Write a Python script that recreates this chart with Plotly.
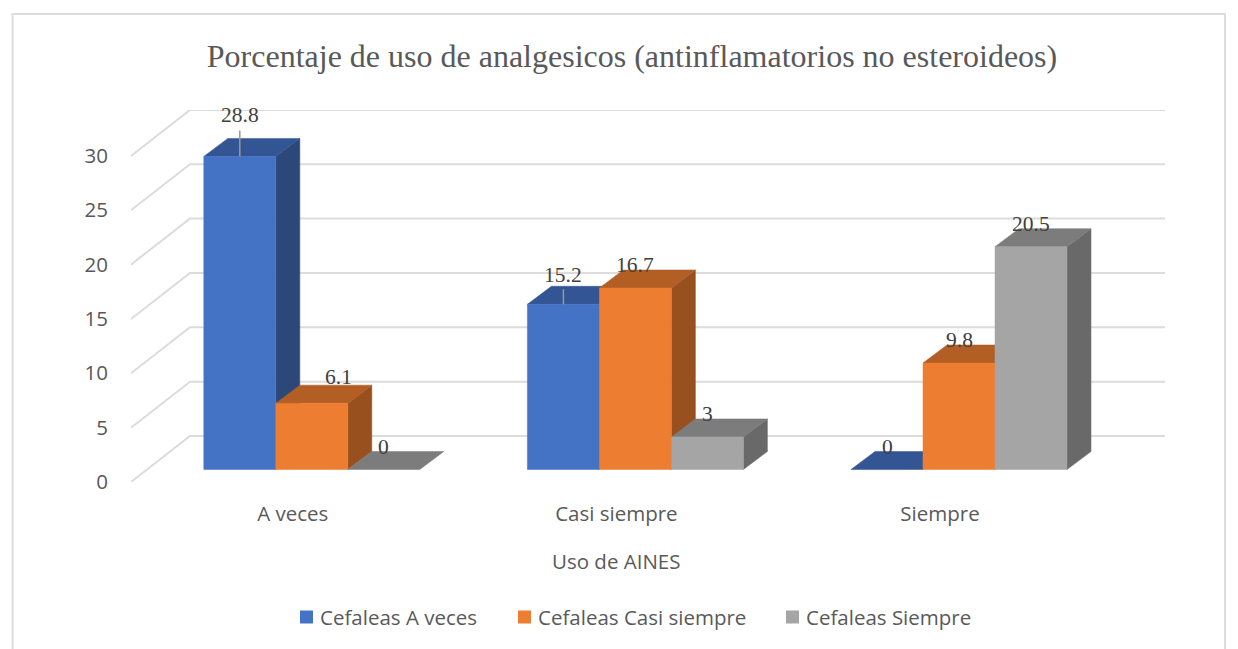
import plotly.graph_objects as go

title = "Porcentaje de uso de analgesicos (antinflamatorios no esteroideos)"
x_title = "Uso de AINES"
categories = ["A veces", "Casi siempre", "Siempre"]
series_names = ["Cefaleas A veces", "Cefaleas Casi siempre", "Cefaleas Siempre"]
a_veces = [28.8, 15.2, 0]
casi_siempre = [6.1, 16.7, 9.8]
siempre = [0, 3, 20.5]
y_ticks = [0, 5, 10, 15, 20, 25, 30]

series_values = [a_veces, casi_siempre, siempre]
front_colors = ["#4472C4", "#ED7D31", "#A5A5A5"]
side_colors = ["#2B4878", "#98501F", "#696969"]
top_colors = ["#335593", "#B25E24", "#7C7C7C"]
TEXT = "#595959"
GRID = "#DCDCDC"

# geometry of the pseudo-3D projection
L, R, T, B = 131, 1165, 110, 482
PX_X, PX_Y = 323.6, 10.87
x_max = (R - L) / PX_X
y_max = (B - T) / PX_Y
wall_dx, wall_dy = 59 / PX_X, 46 / PX_Y
base_dx, base_dy = 19 / PX_X, 12.5 / PX_Y
depth_dx, depth_dy = 24 / PX_X, 18 / PX_Y
bar_w = 72 / PX_X
gap = (1 - 3 * bar_w) / 2


def paper_x(px):
    return (px - L) / (R - L)


def paper_y(px):
    return (B - px) / (B - T)


fig = go.Figure()

# wall gridlines
for t in y_ticks:
    fig.add_trace(go.Scatter(
        x=[0, wall_dx, x_max], y=[t, t + wall_dy, t + wall_dy], mode="lines",
        line=dict(color=GRID, width=2), showlegend=False, hoverinfo="skip"))


def poly(xs, ys, color):
    fig.add_trace(go.Scatter(
        x=xs + xs[:1], y=ys + ys[:1], mode="lines", fill="toself", fillcolor=color,
        line=dict(color=color, width=0.5), showlegend=False, hoverinfo="skip"))


centers = {}
for c in range(len(categories)):
    for s in range(3):
        v = series_values[s][c]
        x0 = c + gap + s * bar_w + base_dx
        x1 = x0 + bar_w
        y0 = base_dy
        y1 = base_dy + v
        if v > 0:
            poly([x1, x1 + depth_dx, x1 + depth_dx, x1],
                 [y0, y0 + depth_dy, y1 + depth_dy, y1], side_colors[s])
        poly([x0, x1, x1 + depth_dx, x0 + depth_dx],
             [y1, y1, y1 + depth_dy, y1 + depth_dy], top_colors[s])
        if v > 0:
            poly([x0, x1, x1, x0], [y0, y0, y1, y1], front_colors[s])
        centers[(s, c)] = ((x0 + x1) / 2, y1)

# leader lines (series 0, first two categories)
for (s, c), rise in {(0, 0): 26, (0, 1): 15}.items():
    cx, top = centers[(s, c)]
    fig.add_trace(go.Scatter(
        x=[cx, cx], y=[top, top + rise / PX_Y], mode="lines",
        line=dict(color="#999999", width=1.5), showlegend=False, hoverinfo="skip"))

# data labels
annotations = []
label_shift = {(0, 0): (0, 41), (0, 1): (0, 29), (1, 0): (27, 26)}
for (s, c), (cx, top) in centers.items():
    dx, dy = label_shift.get((s, c), (0, 23))
    annotations.append(dict(
        x=cx, y=top, xref="x", yref="y", text=str(series_values[s][c]), showarrow=False,
        xshift=dx, yshift=dy, xanchor="center", yanchor="middle",
        font=dict(family="Liberation Serif", size=21.5, color="#404040")))

# x axis title
annotations.append(dict(
    x=paper_x(616.5), y=paper_y(561), xref="paper", yref="paper", text=x_title, showarrow=False,
    xanchor="center", yanchor="middle", font=dict(family="Open Sans", size=20.5, color=TEXT)))

shapes = [dict(type="rect", xref="paper", yref="paper",
               x0=paper_x(12.5), x1=paper_x(1225), y0=paper_y(670), y1=paper_y(14),
               line=dict(color=GRID, width=2), fillcolor="rgba(0,0,0,0)", layer="below")]

# legend: swatches and names placed to match the reference spacing
leg_swatch_px = [300, 518, 786]
leg_text_px = [320, 538, 806]
leg_y_px = 617
for s, name in enumerate(series_names):
    shapes.append(dict(
        type="rect", xref="paper", yref="paper",
        x0=paper_x(leg_swatch_px[s]), x1=paper_x(leg_swatch_px[s] + 13),
        y0=paper_y(leg_y_px + 6.5), y1=paper_y(leg_y_px - 6.5),
        line=dict(width=0), fillcolor=front_colors[s]))
    annotations.append(dict(
        x=paper_x(leg_text_px[s]), y=paper_y(leg_y_px), xref="paper", yref="paper", text=name,
        showarrow=False, xanchor="left", yanchor="middle", xshift=-2,
        font=dict(family="Open Sans", size=20.5, color=TEXT)))

fig.update_layout(
    width=1238, height=649,
    margin=dict(l=L, r=1238 - R, t=T, b=649 - B, autoexpand=False),
    paper_bgcolor="white", plot_bgcolor="white", showlegend=False,
    title=dict(text=title, x=632 / 1238, xanchor="center", y=1 - 56 / 649, yanchor="middle",
               font=dict(family="Liberation Serif", size=32, color=TEXT)),
    xaxis=dict(range=[0, x_max], tickmode="array", tickvals=[0.5, 1.5, 2.5], ticktext=categories,
               showgrid=False, zeroline=False, showline=False, ticks="",
               ticklabelstandoff=17, tickfont=dict(family="Open Sans", size=20.5, color=TEXT)),
    yaxis=dict(range=[0, y_max], tickmode="array", tickvals=y_ticks,
               showgrid=False, zeroline=False, showline=False, ticks="",
               ticklabelstandoff=22, tickfont=dict(family="Open Sans", size=20.5, color=TEXT)),
    annotations=annotations,
    shapes=shapes,
)

fig.write_html("out.html", config=dict(displayModeBar=False), post_script=(
    "document.body.style.margin='0';"
    "document.documentElement.style.overflow='hidden';"))
